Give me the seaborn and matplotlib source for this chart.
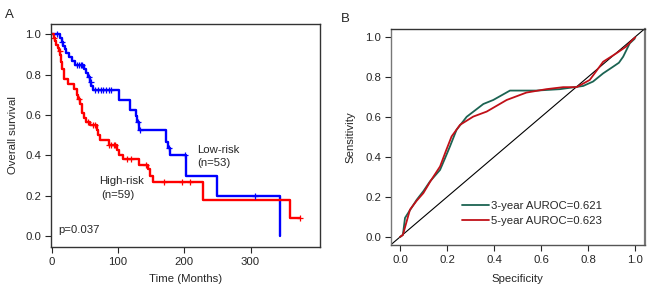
import numpy as np
import pandas as pd
import matplotlib
matplotlib.use("Agg")
import matplotlib.pyplot as plt
import seaborn as sns

# Kaplan-Meier step points (time in months, survival after the step)
low_t = [0, 13, 15, 17, 20, 22, 26, 30, 35, 48, 52, 55, 58, 60, 62, 102, 118, 127, 129,
         132, 172, 176, 179, 203, 249, 344]
low_s = [1.0, 0.981, 0.962, 0.943, 0.925, 0.906, 0.887, 0.868, 0.849, 0.829, 0.808, 0.787,
         0.766, 0.744, 0.722, 0.674, 0.626, 0.596, 0.566, 0.525, 0.468, 0.437, 0.400, 0.300,
         0.200, 0.0]
low_cens = [8, 16, 38, 41, 44, 46, 56, 59, 66, 70, 74, 78, 82, 86, 90, 130, 133, 177, 201, 306]

high_t = [0, 3, 5, 7, 9, 11, 13, 14, 16, 18, 25, 33, 38, 40, 42, 45, 48, 52, 58, 68, 70, 73,
          86, 98, 102, 108, 131, 146, 149, 153, 229, 360, 375]
high_s = [1.0, 0.983, 0.966, 0.949, 0.932, 0.915, 0.898, 0.864, 0.83, 0.78, 0.756, 0.73, 0.70,
          0.678, 0.655, 0.61, 0.585, 0.567, 0.55, 0.528, 0.503, 0.475, 0.45, 0.425, 0.40, 0.38,
          0.352, 0.335, 0.30, 0.27, 0.178, 0.089, 0.089]
high_cens = [4, 12, 41, 55, 62, 66, 87, 90, 94, 96, 113, 120, 143, 169, 196, 208, 375]

# ROC curves (x = 1 - specificity as drawn, y = sensitivity)
roc3_x = [0, 0.012, 0.021, 0.04, 0.071, 0.10, 0.127, 0.17, 0.19, 0.212, 0.24, 0.283, 0.354,
          0.396, 0.467, 0.58, 0.679, 0.778, 0.82, 0.863, 0.905, 0.93, 0.948, 0.976, 0.997]
roc3_y = [0, 0.01, 0.095, 0.13, 0.186, 0.23, 0.277, 0.335, 0.39, 0.452, 0.535, 0.60, 0.664,
          0.684, 0.731, 0.731, 0.738, 0.754, 0.776, 0.817, 0.85, 0.87, 0.90, 0.967, 0.99]
roc5_x = [0, 0.012, 0.042, 0.07, 0.099, 0.13, 0.17, 0.195, 0.219, 0.255, 0.311, 0.368, 0.453,
          0.537, 0.622, 0.693, 0.75, 0.806, 0.835, 0.863, 0.919, 0.96, 0.99, 1.0]
roc5_y = [0, 0.01, 0.136, 0.18, 0.219, 0.28, 0.352, 0.43, 0.502, 0.56, 0.601, 0.626, 0.684,
          0.721, 0.738, 0.748, 0.748, 0.784, 0.83, 0.875, 0.917, 0.95, 0.987, 0.997]


def at_times(t, s, times):
    idx = np.searchsorted(t, times, side="right") - 1
    return np.asarray(s)[idx]


sns.set_style("ticks")
plt.rcParams["font.family"] = ["Liberation Sans", "DejaVu Sans"]
plt.rcParams["font.size"] = 8.2

fig = plt.figure(figsize=(6.5, 2.93), dpi=100)
ax1 = fig.add_axes([0.0785, 0.157, 0.414, 0.761])
ax2 = fig.add_axes([0.601, 0.164, 0.391, 0.736])

#%% Panel A: survival
km_low = pd.DataFrame({"t": low_t, "s": low_s})
km_high = pd.DataFrame({"t": high_t, "s": high_s})
sns.lineplot(data=km_low, x="t", y="s", ax=ax1, color="#0000ff", lw=1.7,
             drawstyle="steps-post", sort=False, estimator=None)
sns.lineplot(data=km_high, x="t", y="s", ax=ax1, color="#ff0000", lw=1.7,
             drawstyle="steps-post", sort=False, estimator=None)
ax1.plot(low_cens, at_times(low_t, low_s, low_cens), "+", color="#0000ff", ms=5, mew=0.9)
ax1.plot(high_cens, at_times(high_t, high_s, high_cens), "+", color="#ff0000", ms=5, mew=0.9)

ax1.text(219, 0.429, "Low-risk", va="center", ha="left")
ax1.text(219, 0.36, "(n=53)", va="center", ha="left")
ax1.text(72, 0.273, "High-risk", va="center", ha="left")
ax1.text(75.5, 0.203, "(n=59)", va="center", ha="left")
ax1.text(10, 0.03, "p=0.037", va="center", ha="left")

ax1.set_xlim(-1, 405)
ax1.set_ylim(-0.054, 1.051)
ax1.set_xticks([0, 100, 200, 300])
ax1.set_yticks([0, 0.2, 0.4, 0.6, 0.8, 1.0])
ax1.set_yticklabels(["0.0", "0.2", "0.4", "0.6", "0.8", "1.0"])
ax1.set_xlabel("Time (Months)", labelpad=5)
ax1.set_ylabel("Overall survival", labelpad=5)

#%% Panel B: ROC
ax2.axline((0, 0), (1, 1), color="black", lw=0.8)
sns.lineplot(x=roc3_x, y=roc3_y, ax=ax2, color="#1b6352", lw=1.3, sort=False,
             estimator=None, label="3-year AUROC=0.621")
sns.lineplot(x=roc5_x, y=roc5_y, ax=ax2, color="#c01018", lw=1.3, sort=False,
             estimator=None, label="5-year AUROC=0.623")
ax2.legend(loc="lower right", frameon=False, handlelength=2.3, handletextpad=0.25,
           labelspacing=0.45, borderaxespad=0.2, bbox_to_anchor=(0.86, 0.055))

ax2.set_xlim(-0.04, 1.04)
ax2.set_ylim(-0.04, 1.037)
ticks = [0, 0.2, 0.4, 0.6, 0.8, 1.0]
ax2.set_xticks(ticks)
ax2.set_yticks(ticks)
ax2.set_xticklabels(["0.0", "0.2", "0.4", "0.6", "0.8", "1.0"])
ax2.set_yticklabels(["0.0", "0.2", "0.4", "0.6", "0.8", "1.0"])
ax2.set_xlabel("Specificity", labelpad=7)
ax2.set_ylabel("Sensitivity", labelpad=7)

for ax in (ax1, ax2):
    for sp in ax.spines.values():
        sp.set_visible(True)
        sp.set_linewidth(1.0)
        sp.set_color("#333333")
    ax.tick_params(direction="out", length=4, width=0.8, pad=3, labelsize=8.2)
ax2.spines["right"].set_linewidth(1.6)
ax2.spines["right"].set_color("#777777")
ax2.spines["left"].set_color("#777777")
ax2.spines["bottom"].set_color("#555555")

fig.text(0.008, 0.95, "A", fontsize=9.5, va="center")
fig.text(0.525, 0.935, "B", fontsize=9.5, va="center")

fig.savefig("out.png", dpi=100)
